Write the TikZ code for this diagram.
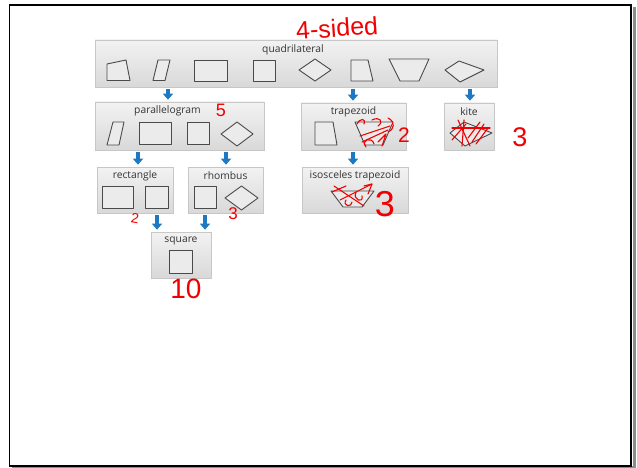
\documentclass[tikz,border=0pt]{standalone}
\usepackage{fontspec}
\setmainfont{Open Sans}
\newfontfamily\handfont{Liberation Sans}
\usetikzlibrary{arrows.meta,calc,shadows}
\definecolor{arrowblue}{HTML}{1E78C2}
\definecolor{ttlgray}{HTML}{333333}
\definecolor{shpgray}{HTML}{4A4A4A}
\definecolor{pen}{HTML}{F00000}
\tikzset{
  boxst/.style={draw=black!22, line width=0.6pt, top color=black!5, bottom color=black!15,
     drop shadow={shadow xshift=1.2pt, shadow yshift=-1.2pt, opacity=0.25, fill=black}, inner sep=0pt},
  ttl/.style={text=ttlgray, font=\fontsize{10.3}{11}\selectfont, inner sep=0pt, anchor=center},
  shp/.style={draw=shpgray, line width=0.9pt, fill=white!92!black, line join=round},
  barrow/.style={draw=arrowblue, line width=4pt, -{Triangle[width=10pt,length=6pt]}, shorten <=2pt, shorten >=2pt},
  hand/.style={text=pen, inner sep=0pt},
  scrib/.style={draw=pen, line width=1.1pt, line cap=round, line join=round},
}
\begin{document}
\begin{tikzpicture}[x=1pt,y=-1pt]
\useasboundingbox (0,0) rectangle (637,468);
% page frame
\fill[black!45] (633,7) rectangle (636,468);
\fill[black!45] (12,466) rectangle (636,468);
\draw[black, line width=1.6pt] (9.5,5) rectangle (631,466);

% boxes
\node[boxst, minimum width=402pt, minimum height=47pt] (q) at (296,63.5) {};
\node[boxst, minimum width=169pt, minimum height=48pt] (par) at (179.5,126) {};
\node[boxst, minimum width=105pt, minimum height=47pt] (trap) at (353.5,126.5) {};
\node[boxst, minimum width=50pt, minimum height=47pt] (kite) at (469,126.5) {};
\node[boxst, minimum width=76pt, minimum height=46pt] (rect) at (135,190) {};
\node[boxst, minimum width=75pt, minimum height=46pt] (rhomb) at (225.5,190) {};
\node[boxst, minimum width=106pt, minimum height=46pt] (iso) at (355,190) {};
\node[boxst, minimum width=60pt, minimum height=46pt] (sq) at (181,255) {};

% titles
\node[ttl] (tq) at ($(q.north)+(-3,10)$) {quadrilateral};
\node[ttl] (tpar) at ($(par.north)+(-12,9.5)$) {parallelogram};
\node[ttl] (ttrap) at ($(trap.north)+(0,9)$) {trapezoid};
\node[ttl] (tkite) at ($(kite.north)+(0,9)$) {kite};
\node[ttl] (trect) at ($(rect.north)+(0,9)$) {rectangle};
\node[ttl] (trhomb) at ($(rhomb.north)+(0,9)$) {rhombus};
\node[ttl] (tiso) at ($(iso.north)+(0,9)$) {isosceles trapezoid};
\node[ttl] (tsq) at ($(sq.north)+(0,9)$) {square};

% shapes in quadrilateral row
\draw[shp] (107,64) -- (126,60) -- (130,80.5) -- (107,80.5) -- cycle;
\draw[shp] (158,60) -- (170,60) -- (165,80.5) -- (153,80.5) -- cycle;
\draw[shp] (194,60) rectangle (227,81);
\draw[shp] (253,60) rectangle (275,81);
\draw[shp] (299,70) -- (315,59) -- (331,70) -- (315,81) -- cycle;
\draw[shp] (351,60) -- (368,60) -- (373,81) -- (351,81) -- cycle;
\draw[shp] (389,59) -- (429,59) -- (419,81) -- (400,81) -- cycle;
\draw[shp] (445,70) -- (459,61) -- (484,70) -- (460,82) -- cycle;

% parallelogram box shapes
\draw[shp] (113,122) -- (124,122) -- (119,145) -- (107,145) -- cycle;
\draw[shp] (139,122) rectangle (171,144);
\draw[shp] (187,122) rectangle (209,144);
\draw[shp] (221,134) -- (237,122) -- (253,134) -- (237,146) -- cycle;

% trapezoid box shapes
\draw[shp] (315,122) -- (333,122) -- (337,145) -- (315,145) -- cycle;
\draw[shp] (355,122) -- (393,122) -- (383,145) -- (365,145) -- cycle;

% kite shape
\draw[shp] (450,133) -- (464,122) -- (492,133) -- (465,146) -- cycle;

% rectangle box shapes
\draw[shp] (102,186) rectangle (133,208);
\draw[shp] (145,186) rectangle (168,208);
% rhombus box shapes
\draw[shp] (194,186) rectangle (216,208);
\draw[shp] (225,198) -- (241.5,186) -- (258,198) -- (241.5,210) -- cycle;
% isosceles trapezoid shape
\draw[shp] (331,191) -- (374,191) -- (362,207) -- (343,207) -- cycle;
% square box shape
\draw[shp] (169,250) rectangle (192,273);

% arrows
\coordinate (xa) at (168,0);
\coordinate (xb) at (353,0);
\coordinate (xc) at (470,0);
\coordinate (xd) at (138,0);
\coordinate (xe) at (226,0);
\coordinate (xf) at (157,0);
\coordinate (xg) at (205,0);
\draw[barrow] (q.south -| xa) -- (par.north -| xa);
\draw[barrow] (q.south -| xb) -- (trap.north -| xb);
\draw[barrow] (q.south -| xc) -- (kite.north -| xc);
\draw[barrow] (par.south -| xd) -- (rect.north -| xd);
\draw[barrow] (par.south -| xe) -- (rhomb.north -| xe);
\draw[barrow] (trap.south -| xb) -- (iso.north -| xb);
\draw[barrow] (rect.south -| xf) -- (sq.north -| xf);
\draw[barrow] (rhomb.south -| xg) -- (sq.north -| xg);

% handwritten annotations
\node[hand, font=\handfont\fontsize{25}{26}\selectfont, rotate=4] (h1) at (337,28) {4-sided};
\node[hand, font=\handfont\fontsize{18}{20}\selectfont] (h2) at (221,110) {5};
\node[hand, font=\handfont\fontsize{21}{22}\selectfont] (h3) at (404,135) {2};
\node[hand, font=\handfont\fontsize{27}{28}\selectfont] (h4) at (520,137) {3};
\node[hand, font=\handfont\fontsize{14}{15}\selectfont, rotate=-10] (h5) at (135,218) {2};
\node[hand, font=\handfont\fontsize{17}{18}\selectfont] (h6) at (233,214) {3};
\node[hand, font=\handfont\fontsize{36}{38}\selectfont] (h7) at (385,204) {3};
\node[hand, font=\handfont\fontsize{28}{30}\selectfont] (h8) at (186,289) {10};

% scribbles on trapezoid
\draw[scrib] (357,124) .. controls (360,118) and (366,118) .. (364,124);
\draw[scrib] (372,120) .. controls (380,116) and (384,122) .. (378,126);
\draw[scrib] (388,118) .. controls (396,122) and (394,130) .. (388,132);
\draw[scrib] (360,136) -- (390,126);
\draw[scrib] (362,142) -- (388,130);
\draw[scrib] (366,147) .. controls (360,140) and (372,136) .. (374,144);
\draw[scrib] (378,142) -- (386,134) -- (382,146);
% scribbles on kite
\draw[scrib] (452,128) -- (490,128);
\draw[scrib] (458,120) -- (470,146);
\draw[scrib] (464,120) -- (462,146);
\draw[scrib] (468,138) -- (480,122);
\draw[scrib] (472,142) -- (484,124);
\draw[scrib] (452,140) -- (466,124);
\draw[scrib] (476,144) -- (488,128);
% scribbles on isosceles trapezoid
\draw[scrib] (334,186) -- (364,206);
\draw[scrib] (332,192) -- (346,186);
\draw[scrib] (340,200) -- (372,184);
\draw[scrib] (356,192) .. controls (352,200) and (364,204) .. (362,196);
\draw[scrib] (364,186) -- (372,184) -- (368,194);
\draw[scrib] (346,200) .. controls (342,206) and (352,208) .. (352,202);
\end{tikzpicture}
\end{document}
